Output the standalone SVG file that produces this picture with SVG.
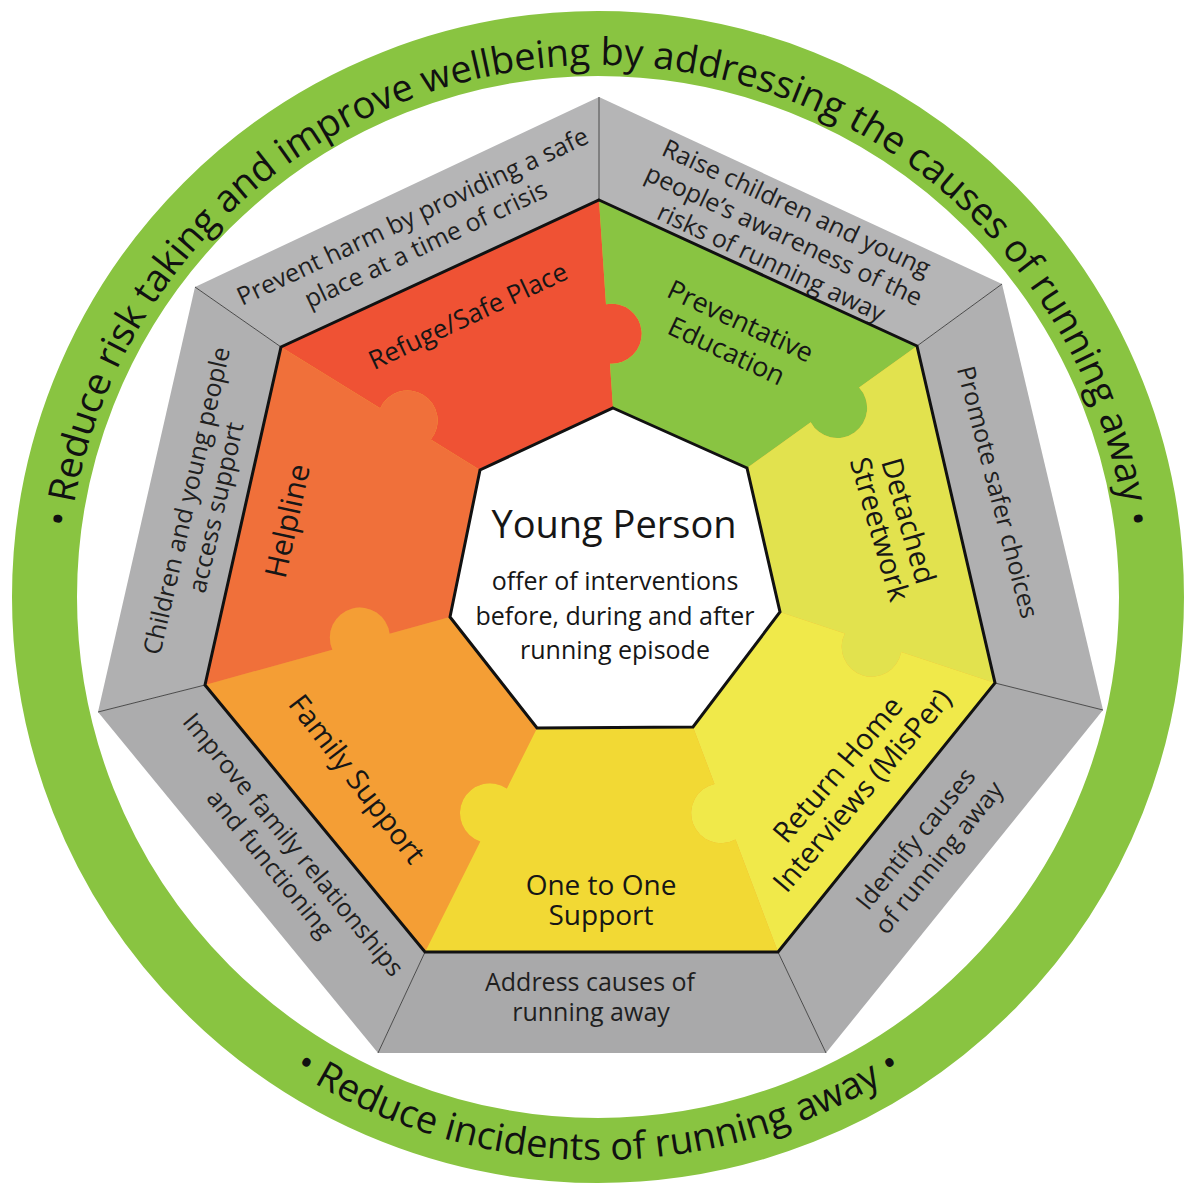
<svg xmlns="http://www.w3.org/2000/svg" width="1186" height="1187" viewBox="0 0 1186 1187">
<style>
  text{font-family:"Open Sans","Noto Sans","DejaVu Sans",sans-serif;text-anchor:middle;fill:#161616}
  .ring{font-size:38px;fill:#111111}
  .gt{font-size:25px;fill:#1f1f1f}
  .pt{font-size:29px}
  .gray{stroke:none}
  .div{stroke:#4a4a4a;stroke-width:1;fill:none}
  .frame{fill:none;stroke:#111;stroke-width:3;stroke-linejoin:miter}
</style>
<defs>
  <path id="arcTop" d="M66,597 A532,532 0 0 1 1130,597"/>
  <path id="arcBot" d="M35,597 A563,563 0 0 0 1161,597"/>
</defs>
<rect width="1186" height="1187" fill="#ffffff"/>

<g id="goal-ring">
  <circle cx="598" cy="597" r="553.5" fill="none" stroke="#89c441" stroke-width="65"/>
  <text class="ring"><textPath href="#arcTop" startOffset="50%">• Reduce risk taking and improve wellbeing by addressing the causes of running away •</textPath><textPath href="#arcBot" startOffset="50%">• Reduce incidents of running away •</textPath></text>
</g>

<g id="outcome-prevent-harm">
  <polygon class="gray" fill="#b5b5b6" points="195,287 599,97 599,200 281,347"/>
  <text class="gt" transform="translate(419,230) rotate(-25.2)"><tspan x="0" y="-6.5">Prevent harm by providing a safe</tspan><tspan x="0" y="24.5">place at a time of crisis</tspan></text>
</g>
<g id="outcome-raise-awareness">
  <polygon class="gray" fill="#b5b5b6" points="599,97 1002,284 917,346 599,200"/>
  <text class="gt" transform="translate(784,235) rotate(24.9)"><tspan x="0" y="-21">Raise children and young</tspan><tspan x="0" y="9">people’s awareness of the</tspan><tspan x="0" y="39">risks of running away</tspan></text>
</g>
<g id="outcome-safer-choices">
  <polygon class="gray" fill="#b0b0b1" points="1002,284 1103,710 995,683 917,346"/>
  <text class="gt" transform="translate(998,492) rotate(75.5)" x="0" y="9">Promote safer choices</text>
</g>
<g id="outcome-identify-causes">
  <polygon class="gray" fill="#acacad" points="1103,710 826,1053 778,952 995,683"/>
  <text class="gt" transform="translate(927,848) rotate(-51.1)"><tspan x="0" y="-6">Identify causes</tspan><tspan x="0" y="24">of running away</tspan></text>
</g>
<g id="outcome-address-causes">
  <polygon class="gray" fill="#a9a9aa" points="826,1053 378,1053 425,952 778,952"/>
  <text class="gt"><tspan x="590" y="991">Address causes of</tspan><tspan x="591" y="1021">running away</tspan></text>
</g>
<g id="outcome-family-relationships">
  <polygon class="gray" fill="#acacad" points="378,1053 98,712 205,685 425,952"/>
  <text class="gt" transform="translate(282,854) rotate(50.6)"><tspan x="0" y="-6">Improve family relationships</tspan><tspan x="0" y="24">and functioning</tspan></text>
</g>
<g id="outcome-access-support">
  <polygon class="gray" fill="#b0b0b1" points="98,712 195,287 281,347 205,685"/>
  <text class="gt" transform="translate(201,504) rotate(-77.1)"><tspan x="0" y="-6">Children and young people</tspan><tspan x="0" y="24">access support</tspan></text>
</g>

<g id="dividers">
  <line class="div" x1="599" y1="200" x2="599" y2="97"/>
  <line class="div" x1="917" y1="346" x2="1002" y2="284"/>
  <line class="div" x1="995" y1="683" x2="1103" y2="710"/>
  <line class="div" x1="778" y1="952" x2="826" y2="1053"/>
  <line class="div" x1="425" y1="952" x2="378" y2="1053"/>
  <line class="div" x1="205" y1="685" x2="98" y2="712"/>
  <line class="div" x1="281" y1="347" x2="195" y2="287"/>
</g>

<polygon id="pieces-backing" fill="#f2b03a" points="599,200 917,346 995,683 778,952 425,952 205,685 281,347"/>

<g id="service-refuge">
  <path fill="#ef5234" d="M281,347 L599,200 L606,304.3 A30,30 0 1 1 610,363.7 L613,408 L480,470 L430.8,439.5 A30,30 0 1 0 380.2,408.3 Z"/>
  <text class="pt" style="font-size:26px" transform="translate(468,316) rotate(-25.2)" y="9">Refuge/Safe Place</text>
</g>
<g id="service-preventative-education">
  <path fill="#89c442" d="M599,200 L917,346 L859.1,387.6 A30,30 0 1 1 810.7,422.2 L747,468 L613,408 L610,363.7 A30,30 0 1 0 606,304.3 Z"/>
  <text class="pt" style="font-size:27px" transform="translate(734,335) rotate(25)"><tspan x="0" y="-6">Preventative</tspan><tspan x="0" y="27">Education</tspan></text>
</g>
<g id="service-detached-streetwork">
  <path fill="#e2e24e" d="M917,346 L995,683 L901.2,652 A30,30 0 1 1 844.8,633.4 L780,612 L747,468 L810.7,422.2 A30,30 0 1 0 859.1,387.6 Z"/>
  <text class="pt" transform="translate(894,525) rotate(74)"><tspan x="0" y="-5">Detached</tspan><tspan x="0" y="25">Streetwork</tspan></text>
</g>
<g id="service-return-home-interviews">
  <path fill="#f0e94a" d="M995,683 L778,952 L735.5,839.5 A30,30 0 1 1 714.5,783.9 L693,727 L780,612 L844.8,633.4 A30,30 0 1 0 901.2,652 Z"/>
  <text class="pt" transform="translate(850,780) rotate(-49.5)"><tspan x="0" y="-6">Return Home</tspan><tspan x="0" y="26">Interviews (MisPer)</tspan></text>
</g>
<g id="service-one-to-one">
  <path fill="#f2d934" d="M778,952 L425,952 L480.2,841.6 A30,30 0 1 1 506.8,788.4 L537,728 L693,727 L714.5,783.9 A30,30 0 1 0 735.5,839.5 Z"/>
  <text class="pt" style="font-size:28px"><tspan x="601" y="895">One to One</tspan><tspan x="601" y="925">Support</tspan></text>
</g>
<g id="service-family-support">
  <path fill="#f49e35" d="M425,952 L205,685 L332.4,649.7 A30,30 0 1 1 389.6,633.8 L450,617 L537,728 L506.8,788.4 A30,30 0 1 0 480.2,841.6 Z"/>
  <text class="pt" transform="translate(357,779) rotate(52.6)" y="10">Family Support</text>
</g>
<g id="service-helpline">
  <path fill="#f0703a" d="M205,685 L281,347 L380.2,408.3 A30,30 0 1 1 430.8,439.5 L480,470 L450,617 L389.6,633.8 A30,30 0 1 0 332.4,649.7 Z"/>
  <text class="pt" style="font-size:30px" transform="translate(288,521) rotate(-77.5)" y="10">Helpline</text>
</g>

<polygon id="services-frame" class="frame" points="599,200 917,346 995,683 778,952 425,952 205,685 281,347"/>

<g id="young-person">
  <polygon fill="#ffffff" stroke="#111" stroke-width="3" points="613,408 747,468 780,612 693,727 537,728 450,617 480,470"/>
  <text style="font-size:38px" x="614" y="538">Young Person</text>
  <text style="font-size:25px"><tspan x="615" y="590">offer of interventions</tspan><tspan x="615" y="625">before, during and after</tspan><tspan x="615" y="659">running episode</tspan></text>
</g>
</svg>
